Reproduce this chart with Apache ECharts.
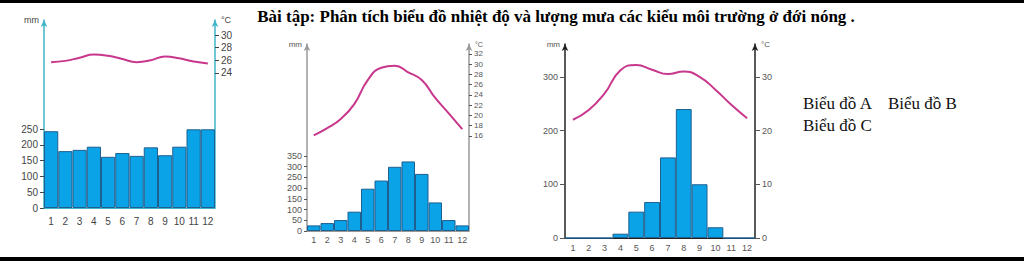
<!DOCTYPE html>
<html>
<head>
<meta charset="utf-8">
<script src="https://cdn.jsdelivr.net/npm/echarts@6/dist/echarts.min.js"></script>
<style>
html,body{margin:0;padding:0;background:#fff;}
#c{width:1024px;height:261px;}
</style>
</head>
<body>
<div id="c"></div>
<script>
const months = ['1','2','3','4','5','6','7','8','9','10','11','12'];
// Chart A
const rainA = [243,180,184,194,162,174,165,192,167,194,249,249];
const tempA = [25.7,25.9,26.4,26.9,26.7,26.2,25.7,26.0,26.6,26.3,25.8,25.5];
const mmTicksA = [0,50,100,150,200,250];
const cTicksA = [24,26,28,30];
// Chart B
const rainB = [26,37,51,90,197,235,299,324,266,133,51,26];
const tempB = [16.1,17.5,19.3,22.2,26.9,29.3,29.7,28.4,26.9,23.4,20.4,17.3];
const mmTicksB = [0,50,100,150,200,250,300,350];
const cTicksB = [16,18,20,22,24,26,28,30,32];
// Chart C
const rainC = [0,0,0,8,49,67,150,240,100,20,0,0];
const tempC = [22.0,23.8,26.9,31.2,32.2,31.3,30.5,31.0,30.0,27.6,24.8,22.3];
const mmTicksC = [0,100,200,300];
const cTicksC = [0,10,20,30];

const titleText = 'Bài tập: Phân tích biểu đồ nhiệt độ và lượng mưa các kiểu môi trường ở đới nóng .';
const noteA = 'Biểu đồ A', noteB = 'Biểu đồ B', noteC = 'Biểu đồ C';

const barFill = '#0aa3e8', barBorder = '#1f5f8f', lineColor = '#c8378c';
const chart = echarts.init(document.getElementById('c'), null, {renderer:'svg'});

function yAxis(gi, pos, min, max, ticks, color, labColor, fs, name, tickLen) {
  return {
    type:'value', gridIndex:gi, position:pos, min:min, max:max,
    splitLine:{show:false},
    axisLine:{show:true, onZero:false, lineStyle:{color:color, width:1.5}, symbol:['none','arrow'], symbolSize:[5,7]},
    axisTick:{show:true, length:tickLen, lineStyle:{color:labColor}, customValues:ticks},
    axisLabel:{show:true, color:labColor, fontSize:fs, margin:tickLen+2, fontFamily:'Liberation Sans', customValues:ticks},
    name:name, nameLocation:'end', nameGap:0,
    nameTextStyle:{color:labColor, fontSize:fs-1, fontFamily:'Liberation Sans',
      align: pos==='left'?'right':'left', verticalAlign:'middle',
      padding: pos==='left'?[0,5,0,0]:[0,0,0,6]}
  };
}
function xAxis(gi, color, labColor, fs, margin) {
  return {type:'category', gridIndex:gi, data:months,
    axisLine:{show:true, lineStyle:{color:color, width:1}},
    axisTick:{show:false},
    axisLabel:{color:labColor, fontSize:fs, margin:margin, fontFamily:'Liberation Sans', interval:0}};
}
function bars(i, data) {
  return {type:'bar', xAxisIndex:i, yAxisIndex:2*i, data:data, barCategoryGap:'0%',
    itemStyle:{color:barFill, borderColor:barBorder, borderWidth:1}, silent:true, z:2};
}
function line(i, data) {
  return {type:'line', xAxisIndex:i, yAxisIndex:2*i+1, data:data, smooth:0.5, symbol:'none',
    lineStyle:{color:lineColor, width:2}, silent:true, z:3};
}

chart.setOption({
  animation:false,
  title:{text:titleText, left:551, textAlign:'center', top:3,
    textStyle:{fontFamily:'Liberation Serif', fontSize:17, fontWeight:'bold', color:'#000'}},
  grid:[
    {left:44, right:809, top:20, bottom:53},
    {left:307, right:555, top:44, bottom:30},
    {left:565, right:269, top:44, bottom:23}
  ],
  xAxis:[
    xAxis(0,'#3fb4c9','#444',10,8),
    xAxis(1,'#999','#555',9,4),
    xAxis(2,'#222','#555',9,5)
  ],
  yAxis:[
    yAxis(0,'left',0,595,mmTicksA,'#3fb4c9','#444',10,'mm',4),
    yAxis(0,'right',2.5,32.4,cTicksA,'#3fb4c9','#444',10,'°C',4),
    yAxis(1,'left',0,871,mmTicksB,'#999','#555',9,'mm',3),
    yAxis(1,'right',-2.6,33.95,cTicksB,'#999','#555',8,'°C',3),
    yAxis(2,'left',0,361,mmTicksC,'#222','#555',9,'mm',5),
    yAxis(2,'right',0,36.1,cTicksC,'#222','#555',9,'°C',5)
  ],
  series:[bars(0,rainA),line(0,tempA),bars(1,rainB),line(1,tempB),bars(2,rainC),line(2,tempC)],
  graphic:[
    {type:'rect', left:0, top:0, shape:{width:1024, height:3}, style:{fill:'#000'}},
    {type:'rect', left:0, top:257, shape:{width:1024, height:4}, style:{fill:'#000'}},
    {type:'text', left:803, top:95, style:{text:noteA, font:'17px "Liberation Serif"', fill:'#111'}},
    {type:'text', left:888, top:95, style:{text:noteB, font:'17px "Liberation Serif"', fill:'#111'}},
    {type:'text', left:803, top:117, style:{text:noteC, font:'17px "Liberation Serif"', fill:'#111'}}
  ]
});
</script>
</body>
</html>
